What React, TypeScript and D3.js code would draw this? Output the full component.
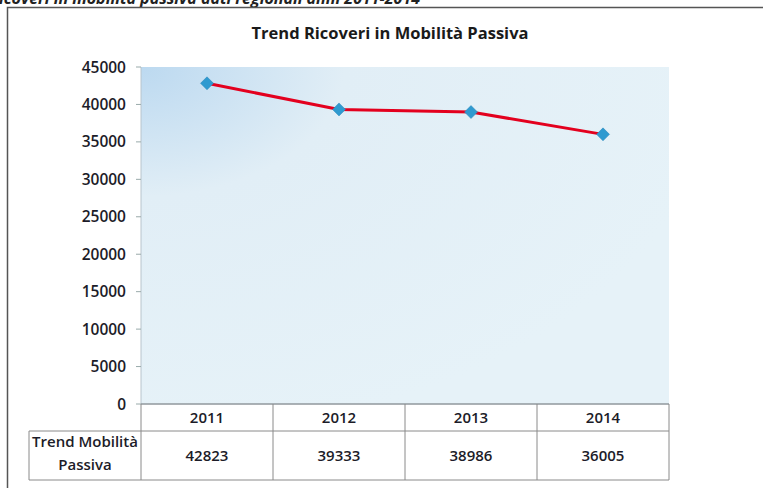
import React from "react";
import * as d3 from "d3";

const years = ["2011", "2012", "2013", "2014"];
const values = [42823, 39333, 38986, 36005];
const yTicks = [0, 5000, 10000, 15000, 20000, 25000, 30000, 35000, 40000, 45000];
const title = "Trend Ricoveri in Mobilità Passiva";
const rowLabel = ["Trend Mobilità", "Passiva"];
const caption = "Tabella: Ricoveri in mobilità passiva dati regionali anni 2011-2014";

export default function App() {
  const W = 763, H = 488;
  const left = 141, right = 669, top = 67, bottom = 404;
  const x = d3.scaleBand<string>().domain(years).range([left, right]);
  const y = d3.scaleLinear().domain([0, 45000]).range([bottom, top]);
  const line = d3.line<number>()
    .x((_, i) => (x(years[i]) as number) + x.bandwidth() / 2)
    .y((d) => y(d));
  const font = "'Open Sans', 'Liberation Sans', sans-serif";
  const rowTop = 404, rowMid = 431, rowBot = 480, labelLeft = 29;
  const diamond = (cx: number, cy: number, r: number) =>
    `M${cx},${cy - r}L${cx + r},${cy}L${cx},${cy + r}L${cx - r},${cy}Z`;
  return (
    <svg width={W} height={H} style={{ position: "absolute", left: 0, top: 0, background: "#fff" }} fontFamily={font}>
      <defs>
        <radialGradient id="bg" cx="0" cy="0" r="1.1" gradientUnits="objectBoundingBox">
          <stop offset="0" stopColor="#bcd9f0" />
          <stop offset="0.35" stopColor="#e1eef6" />
          <stop offset="1" stopColor="#e6f2f8" />
        </radialGradient>
      </defs>
      <text x={420} y={4} textAnchor="end" fontSize={16} fontWeight={700} fontStyle="italic" fill="#222">{caption}</text>
      <rect x={7.5} y={7.5} width={W + 10} height={H + 10} fill="none" stroke="#555" strokeWidth={1.5} />
      <text x={390} y={39} textAnchor="middle" fontSize={16.5} fontWeight={700} fill="#1a1a1a">{title}</text>
      <rect x={left} y={top} width={right - left} height={bottom - top} fill="url(#bg)" />
      <line x1={left} x2={left} y1={top} y2={bottom} stroke="#b8c4cc" />
      <line x1={left} x2={right} y1={bottom} y2={bottom} stroke="#9fb4c4" />
      {yTicks.map((t) => (
        <g key={t}>
          <line x1={left - 5} x2={left} y1={y(t)} y2={y(t)} stroke="#9aa" />
          <text x={126} y={y(t) + 5.5} textAnchor="end" fontSize={15.5} fontWeight={600} fill="#1c1c28">{t}</text>
        </g>
      ))}
      <path d={line(values) || ""} fill="none" stroke="#e3001e" strokeWidth={3} />
      {values.map((v, i) => (
        <path key={i} d={diamond((x(years[i]) as number) + x.bandwidth() / 2, y(v), 6.5)} fill="#2f9ad0" stroke="#2a86b8" strokeWidth={0.5} />
      ))}
      <g stroke="#8a8a8a" strokeWidth={1} fill="none">
        <line x1={left} x2={right} y1={rowTop} y2={rowTop} />
        <line x1={labelLeft} x2={right} y1={rowMid} y2={rowMid} />
        <line x1={labelLeft} x2={right} y1={rowBot} y2={rowBot} />
        <line x1={labelLeft} x2={labelLeft} y1={rowMid} y2={rowBot} />
        {years.map((yr) => (
          <line key={yr} x1={x(yr) as number} x2={x(yr) as number} y1={rowTop} y2={rowBot} />
        ))}
        <line x1={right} x2={right} y1={rowTop} y2={rowBot} />
      </g>
      {years.map((yr, i) => (
        <g key={yr}>
          <text x={(x(yr) as number) + x.bandwidth() / 2} y={423} textAnchor="middle" fontSize={15} fontWeight={600} fill="#1c1c28">{yr}</text>
          <text x={(x(yr) as number) + x.bandwidth() / 2} y={461} textAnchor="middle" fontSize={15} fontWeight={600} fill="#1c1c28">{values[i]}</text>
        </g>
      ))}
      <text x={85} y={447} textAnchor="middle" fontSize={15} fontWeight={600} fill="#1c1c28">{rowLabel[0]}</text>
      <text x={85} y={470} textAnchor="middle" fontSize={15} fontWeight={600} fill="#1c1c28">{rowLabel[1]}</text>
    </svg>
  );
}
